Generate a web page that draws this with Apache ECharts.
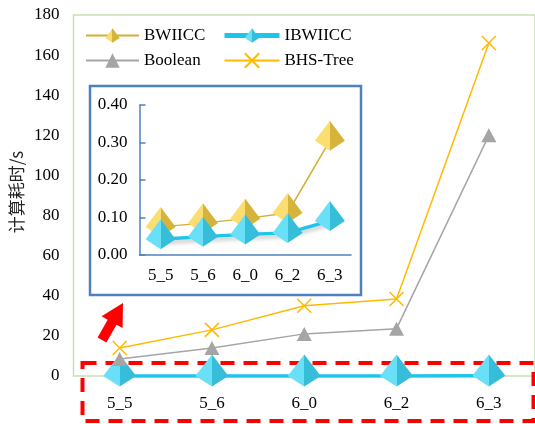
<!DOCTYPE html>
<html>
<head>
<meta charset="utf-8">
<script src="https://cdn.jsdelivr.net/npm/echarts@6/dist/echarts.min.js"></script>
<style>
  html, body { margin: 0; padding: 0; background: #fff; }
  #chart { width: 535px; height: 424px; }
</style>
</head>
<body>
<div id="chart"></div>
<script>
// Test cases on the x axis
const categories = ['5_5', '5_6', '6_0', '6_2', '6_3'];

// Computation time in seconds per method
const bwiicc = [0.075, 0.085, 0.097, 0.112, 0.305];
const ibwiicc = [0.042, 0.049, 0.055, 0.059, 0.091];
const booleanTimes = [8.5, 14.0, 21.0, 23.6, 120.0];
const bhsTree = [14.0, 23.0, 35.0, 38.4, 166.0];

// Axis ranges
const mainRange = { min: 0, max: 180, interval: 20 };
const insetRange = { min: 0, max: 0.4, interval: 0.1 };

const SERIF = '"Liberation Serif", "Times New Roman", serif';
const BLUE = '#4F81BD';

// Two-tone pyramid marker; its widest line sits 2/3 of the way down
const PYRAMID = 'path://M15,0 L30,20 L15,30 L0,20 Z';
const CROSS = 'path://M0,0 L14,14 M14,0 L0,14';

function faces(light, dark) {
  return new echarts.graphic.LinearGradient(0, 0, 1, 0, [
    { offset: 0, color: light },
    { offset: 0.5, color: light },
    { offset: 0.5, color: dark },
    { offset: 1, color: dark }
  ]);
}
const goldFaces = faces('#FCDD70', '#D6B33A');
const cyanFaces = faces('#6ADFF8', '#36BDD9');

function goldSeries(xi, yi, z) {
  return {
    name: 'BWIICC', type: 'line', xAxisIndex: xi, yAxisIndex: yi, z: z,
    data: bwiicc,
    symbol: PYRAMID, symbolSize: [30, 30], symbolOffset: [0, -5],
    itemStyle: { color: goldFaces },
    lineStyle: { color: '#D4AE35', width: 1.5 }
  };
}
function cyanSeries(xi, yi, z, size) {
  return {
    name: 'IBWIICC', type: 'line', xAxisIndex: xi, yAxisIndex: yi, z: z,
    data: ibwiicc,
    symbol: PYRAMID, symbolSize: size, symbolOffset: [0, -size[1] / 6],
    itemStyle: { color: cyanFaces },
    lineStyle: {
      color: '#1CC6EA', width: 3.5,
      shadowColor: 'rgba(0,0,0,0.25)', shadowBlur: 4, shadowOffsetY: 3
    }
  };
}

const legendText = { fontFamily: SERIF, fontSize: 17, color: '#000' };

const chart = echarts.init(document.getElementById('chart'), null, { renderer: 'canvas' });

chart.setOption({
  animation: false,
  backgroundColor: '#fff',
  textStyle: { fontFamily: SERIF },
  grid: [
    { left: 73.5, top: 15, width: 465, height: 361, show: true,
      borderColor: '#C6E0B4', borderWidth: 1.5, backgroundColor: 'transparent' },
    { left: 139.5, top: 105, width: 211.5, height: 150, z: 10 }
  ],
  legend: [
    { left: 85, top: 27, padding: 0, orient: 'vertical', itemWidth: 53, itemHeight: 18, itemGap: 8,
      data: ['BWIICC', 'Boolean'], textStyle: legendText },
    { left: 222, top: 27, padding: 0, orient: 'vertical', itemWidth: 55, itemHeight: 18, itemGap: 8,
      data: [{ name: 'IBWIICC', lineStyle: { width: 5 } }, 'BHS-Tree'], textStyle: legendText }
  ],
  xAxis: [
    { type: 'category', gridIndex: 0, data: categories, boundaryGap: true,
      axisLine: { show: false }, axisTick: { show: false },
      axisLabel: { fontFamily: SERIF, fontSize: 17, color: '#000', margin: 19 } },
    { type: 'category', gridIndex: 1, data: categories, boundaryGap: true, z: 10,
      axisLine: { lineStyle: { color: BLUE, width: 1.5 } },
      axisTick: { alignWithLabel: true, length: 5, lineStyle: { color: BLUE, width: 1.5 } },
      axisLabel: { fontFamily: SERIF, fontSize: 17, color: '#000', margin: 12 } }
  ],
  yAxis: [
    { type: 'value', gridIndex: 0, min: mainRange.min, max: mainRange.max, interval: mainRange.interval,
      axisLine: { show: false }, axisTick: { show: false }, splitLine: { show: false },
      axisLabel: { fontFamily: SERIF, fontSize: 17, color: '#000', margin: 14 } },
    { type: 'value', gridIndex: 1, min: insetRange.min, max: insetRange.max, interval: insetRange.interval, z: 10,
      axisLine: { show: true, lineStyle: { color: BLUE, width: 1.5 } },
      axisTick: { show: true, inside: true, length: 6, lineStyle: { color: BLUE, width: 1.5 } },
      splitLine: { show: false },
      axisLabel: { fontFamily: SERIF, fontSize: 17, color: '#000', margin: 12,
        formatter: v => v.toFixed(2) } }
  ],
  graphic: [
    // y-axis title
    { type: 'text', x: 17, y: 192, rotation: Math.PI / 2, z: 20,
      style: { text: '计算耗时/s', font: '17px "Noto Sans CJK SC"', fill: '#222',
        textAlign: 'center', textVerticalAlign: 'middle' } },
    // dashed highlight box around the near-zero values
    { type: 'rect', z: 1, shape: { x: 82.5, y: 363, width: 451, height: 58 },
      style: { fill: 'none', stroke: '#FF0000', lineWidth: 4, lineDash: [14, 9] } },
    // pointer from the box to the zoomed panel
    { type: 'polygon', z: 20,
      shape: { points: [[106.4, 342.5], [116.5, 324.7], [122.6, 328.1], [123, 303],
                        [101.6, 316.3], [107.7, 319.7], [97.6, 337.5]] },
      style: { fill: '#FF0000' } },
    // zoomed panel frame
    { type: 'rect', z: 5, shape: { x: 90, y: 86, width: 271, height: 209 },
      style: { fill: '#fff', stroke: BLUE, lineWidth: 2.5 } }
  ],
  series: [
    goldSeries(0, 0, 2),
    cyanSeries(0, 0, 3, [33, 32]),
    { name: 'Boolean', type: 'line', xAxisIndex: 0, yAxisIndex: 0, z: 4,
      data: booleanTimes, symbol: 'triangle', symbolSize: [15, 14],
      itemStyle: { color: '#A5A5A5' }, lineStyle: { color: '#A5A5A5', width: 1.5 } },
    { name: 'BHS-Tree', type: 'line', xAxisIndex: 0, yAxisIndex: 0, z: 4,
      data: bhsTree, symbol: CROSS, symbolSize: 14,
      itemStyle: { color: 'rgba(0,0,0,0)', borderColor: '#FFB900', borderWidth: 1.5 },
      lineStyle: { color: '#FFB900', width: 1.5 } },
    goldSeries(1, 1, 11),
    cyanSeries(1, 1, 12, [30, 30])
  ]
});
</script>
</body>
</html>
